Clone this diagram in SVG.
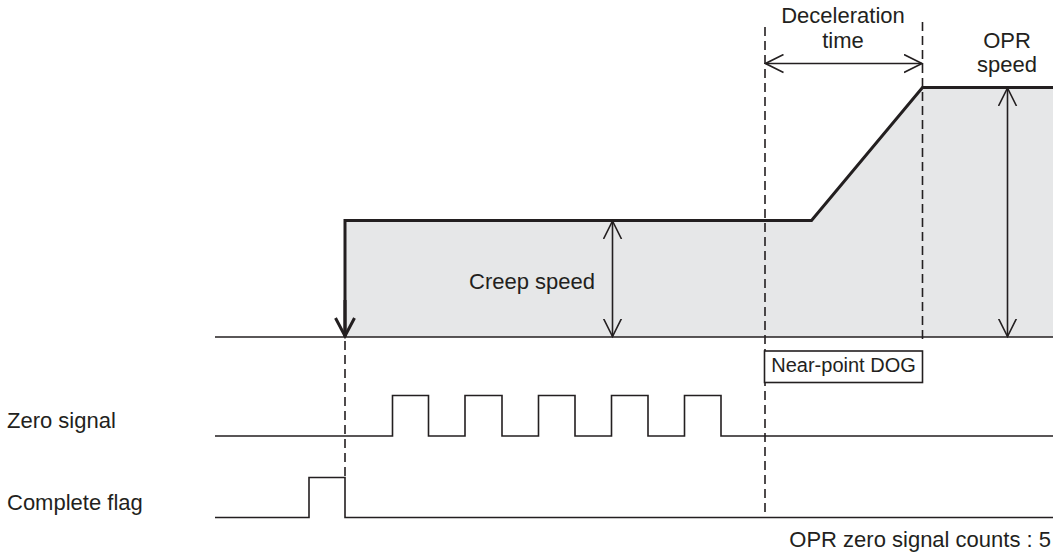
<svg xmlns="http://www.w3.org/2000/svg" width="1053" height="555" viewBox="0 0 1053 555">
<style>
.t{font-family:"Liberation Sans",Arial,sans-serif;font-size:22px;fill:#231f20}
.s{font-family:"Liberation Sans",Arial,sans-serif;font-size:20px;fill:#231f20}
.thin{fill:none;stroke:#231f20;stroke-width:1.6}
.thick{fill:none;stroke:#231f20;stroke-width:3}
.dash{fill:none;stroke:#231f20;stroke-width:1.6;stroke-dasharray:9 5}
</style>
<defs>
<marker id="oa" viewBox="0 0 20 20" refX="18" refY="10" markerWidth="20" markerHeight="20" markerUnits="userSpaceOnUse" orient="auto-start-reverse">
<path d="M0,1 L18,10 L0,19" fill="none" stroke="#231f20" stroke-width="1.6"/>
</marker>
<marker id="ob" viewBox="0 0 22 22" refX="19" refY="11" markerWidth="22" markerHeight="22" markerUnits="userSpaceOnUse" orient="auto">
<path d="M1,1.5 L19,11 L1,20.5" fill="none" stroke="#231f20" stroke-width="3"/>
</marker>
</defs>
<g id="speed-area">
<polygon points="345,220.5 811.5,220.5 922.5,87.5 1053,87.5 1053,337 345,337" fill="#e6e7e8"/>
</g>
<g id="connectors">
<line class="dash" x1="765" y1="27" x2="765" y2="517"/>
<line class="dash" x1="922.5" y1="22" x2="922.5" y2="344"/>
<line class="dash" x1="345" y1="341" x2="345" y2="478"/>
<line class="thin" x1="215" y1="337" x2="1053" y2="337"/>
<polyline class="thick" points="345,337 345,220.5 811.5,220.5 922.5,87.5 1053,87.5"/>
<line class="thick" x1="345" y1="300" x2="345" y2="336" marker-end="url(#ob)"/>
<line class="thin" x1="612.5" y1="221" x2="612.5" y2="336.5" marker-start="url(#oa)" marker-end="url(#oa)"/>
<line class="thin" x1="1007.5" y1="88" x2="1007.5" y2="336.5" marker-start="url(#oa)" marker-end="url(#oa)"/>
<line class="thin" x1="765.5" y1="63.5" x2="922" y2="63.5" marker-start="url(#oa)" marker-end="url(#oa)"/>
<polyline class="thin" points="215,436 392.5,436 392.5,395.5 428.5,395.5 428.5,436 465,436 465,395.5 502,395.5 502,436 538.5,436 538.5,395.5 575,395.5 575,436 611.5,436 611.5,395.5 648,395.5 648,436 684.5,436 684.5,395.5 721,395.5 721,436 1053,436"/>
<polyline class="thin" points="215,517.5 309,517.5 309,477.5 345,477.5 345,517.5 1053,517.5"/>
</g>
<g id="near-point-dog">
<rect x="764.5" y="351" width="158" height="31.5" fill="#fff" stroke="#231f20" stroke-width="1.6"/>
<text class="s" x="843.5" y="372" text-anchor="middle">Near-point DOG</text>
</g>
<g id="labels">
<text class="t" x="843" y="23" text-anchor="middle">Deceleration</text>
<text class="t" x="843" y="47.5" text-anchor="middle">time</text>
<text class="t" x="1007" y="48" text-anchor="middle">OPR</text>
<text class="t" x="1007" y="72" text-anchor="middle">speed</text>
<text class="t" x="532" y="288.5" text-anchor="middle">Creep speed</text>
<text class="t" x="7" y="427.5">Zero signal</text>
<text class="t" x="7" y="510">Complete flag</text>
<text class="t" x="1051" y="546.5" text-anchor="end">OPR zero signal counts : 5</text>
</g>
</svg>
